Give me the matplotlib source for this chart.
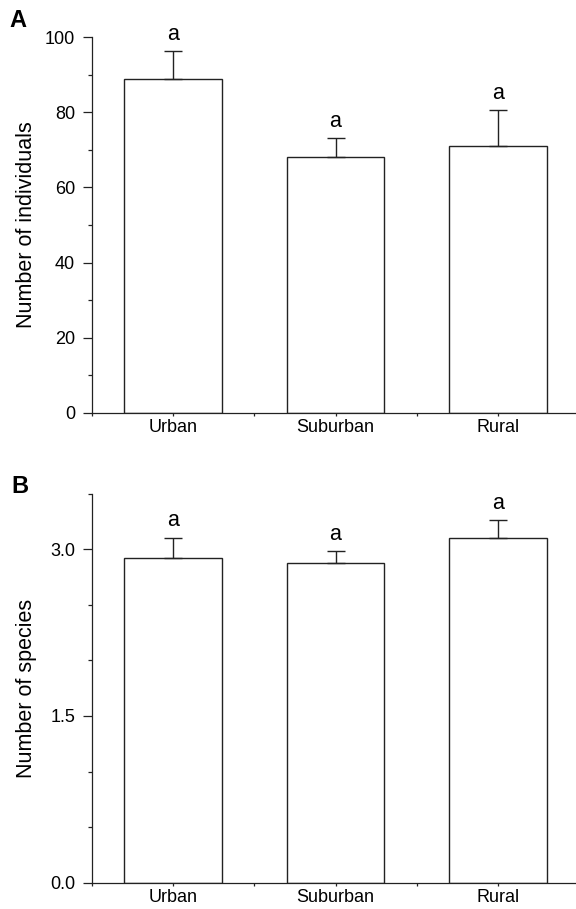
import matplotlib
matplotlib.use("Agg")
import matplotlib.pyplot as plt
from matplotlib.ticker import MultipleLocator
import numpy as np

plt.rcParams['font.family'] = ['Liberation Sans', 'DejaVu Sans']

sites = ["Urban", "Suburban", "Rural"]

# panel A: number of individuals (mean, upper SE)
individuals = [88.8, 68.2, 71.1]
individuals_se = [7.6, 4.9, 9.5]
individuals_letters = ["a", "a", "a"]

# panel B: number of species
species = [2.925, 2.875, 3.10]
species_se = [0.18, 0.105, 0.16]
species_letters = ["a", "a", "a"]

W, H = 576, 909
fig = plt.figure(figsize=(W / 100, H / 100), dpi=100)

left = 91.7 / W
width = (579.3 - 91.7) / W
axA = fig.add_axes([left, 1 - 412.7 / H, width, (412.7 - 37.3) / H])
axB = fig.add_axes([left, 1 - 882.7 / H, width, (882.7 - 493.7) / H])

line_c = "#222222"


def draw_panel(ax, means, se, letters, ylim, major, minor, ylabel, fmt):
    x = np.arange(len(sites))
    ax.bar(x, means, width=0.6, color="white", edgecolor=line_c, linewidth=1.0, zorder=2)
    ax.errorbar(x, means, yerr=[np.zeros(len(se)), se], fmt="none", ecolor=line_c,
                elinewidth=1.0, capsize=6.8, capthick=1.0, zorder=3)
    for xi, m, s, lab in zip(x, means, se, letters):
        ax.annotate(lab, (xi, m + s), xytext=(0, 8), textcoords="offset points",
                    ha="center", va="baseline", fontsize=15.5)
    ax.set_xlim(-0.5, 2.5)
    ax.set_ylim(*ylim)
    ax.set_xticks(x)
    ax.set_xticklabels(sites, fontsize=13)
    ax.xaxis.set_minor_locator(MultipleLocator(0.5))
    ax.tick_params(axis="x", which="both", length=2, width=0.9, color=line_c, pad=2.5)
    ax.yaxis.set_major_locator(MultipleLocator(major))
    ax.yaxis.set_minor_locator(MultipleLocator(minor))
    ax.yaxis.set_major_formatter(fmt)
    ax.tick_params(axis="y", which="major", length=6.5, width=0.9, color=line_c,
                   labelsize=13, pad=5.5)
    ax.tick_params(axis="y", which="minor", length=3, width=0.9, color=line_c)
    for side in ["top", "right"]:
        ax.spines[side].set_visible(False)
    for side in ["left", "bottom"]:
        ax.spines[side].set_color(line_c)
        ax.spines[side].set_linewidth(0.9)
        ax.spines[side].set_clip_on(False)
    ax.set_ylabel(ylabel, fontsize=15.5)
    ax.yaxis.set_label_coords(-0.112, 0.5)


draw_panel(axA, individuals, individuals_se, individuals_letters, (0, 100), 20, 10,
           "Number of individuals", "{x:.0f}")
draw_panel(axB, species, species_se, species_letters, (0, 3.5), 1.5, 0.5,
           "Number of species", "{x:.1f}")

fig.text(9 / W, 1 - 26.7 / H, "A", fontsize=17, fontweight="bold", va="baseline")
fig.text(11.5 / W, 1 - 492.7 / H, "B", fontsize=17, fontweight="bold", va="baseline")

fig.savefig("out.png", dpi=100)
